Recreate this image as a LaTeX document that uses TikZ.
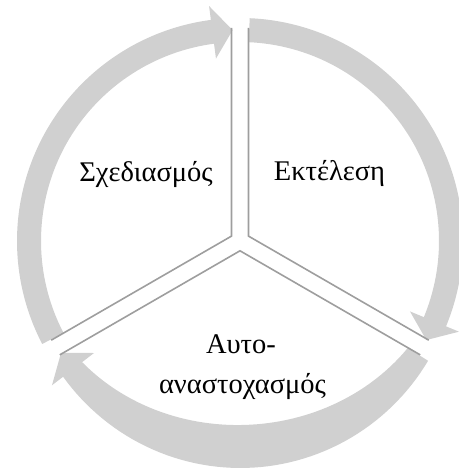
\documentclass[tikz,border=0pt]{standalone}
\usepackage{fontspec}
\setmainfont{Liberation Serif}
\usetikzlibrary{calc}
\definecolor{band}{HTML}{D0D0D0}
\definecolor{edge}{HTML}{9E9E9E}
\tikzset{ring/.style={fill=band,draw=none}, wedge/.style={draw=edge,line width=1.6pt,line join=miter}, lbl/.style={anchor=base,inner sep=0pt,font=\fontsize{28.5}{40}\selectfont}}

\begin{document}
\begin{tikzpicture}[x=1pt,y=1pt]
\useasboundingbox (-240,-229) rectangle (218,241);
% circular arrows
\foreach \r in {0,120}{\fill[ring,rotate=\r] (87.5:223) arc[start angle=87.5,end angle=-22.5,radius=223] -- (-22.5:237) -- (-28:211) -- (-22.5:184) -- (-22.5:199) arc[start angle=-22.5,end angle=87.5,radius=199] -- cycle;}
\fill[ring] plot[variable=\t,domain=32.5:142.5,samples=60] ({(223+4*sin((\t-32.5)*1.6364))*cos(-\t)},{(223+4*sin((\t-32.5)*1.6364))*sin(-\t)}) -- (-142.5:237) -- (-148:211) -- (-142.5:184) -- plot[variable=\t,domain=142.5:32.5,samples=60] ({(199-15*sin((\t-32.5)*1.6364))*cos(-\t)},{(199-15*sin((\t-32.5)*1.6364))*sin(-\t)}) -- cycle;
% segments
\foreach \a in {90,210,330}{\draw[wedge] ($(\a:213)+({\a+90}:8.5)$) -- ({\a+60}:9.8) -- ($({\a+120}:213)+({\a+30}:8.5)$);}
\node[lbl] (plan) at (-94,59) {Σχεδιασμός};
\node[lbl] (act) at (89.5,60) {Εκτέλεση};
\node[lbl] (refl1) at (1,-112) {Αυτο-};
\node[lbl] (refl2) at (2.5,-152) {αναστοχασμός};
\end{tikzpicture}
\end{document}
